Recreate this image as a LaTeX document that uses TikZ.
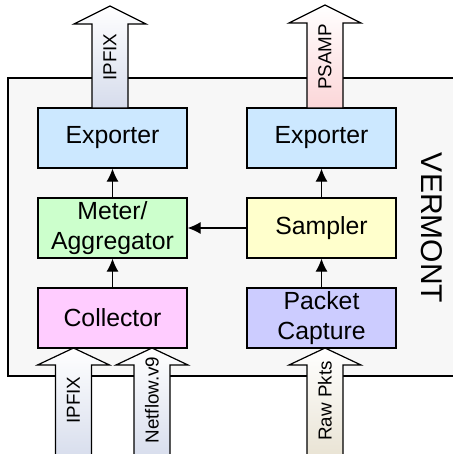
\documentclass[tikz,border=0pt]{standalone}
\usepackage{fontspec}
\setmainfont{Liberation Sans}
\usetikzlibrary{arrows.meta}

\definecolor{expcol}{RGB}{204,232,255}
\definecolor{metcol}{RGB}{204,255,204}
\definecolor{samcol}{RGB}{255,255,204}
\definecolor{colcol}{RGB}{255,204,255}
\definecolor{capcol}{RGB}{204,204,255}
\definecolor{framecol}{RGB}{247,247,247}
\definecolor{ipfixcol}{RGB}{214,220,236}
\definecolor{psampcol}{RGB}{252,214,216}
\definecolor{rawcol}{RGB}{232,226,210}

% fat arrow: centre x, tip y, head base y, tail y, colour
\newcommand{\fatarrow}[5]{%
  \draw[line width=0.6pt, top color=white, bottom color=#5]
    (#1,#2) -- (#1+36,#3) -- (#1+18,#3) -- (#1+18,#4) --
    (#1-18,#4) -- (#1-18,#3) -- (#1-36,#3) -- cycle;}

\begin{document}
\begin{tikzpicture}[x=0.5pt, y=-0.5pt,
  unit/.style={draw, line width=0.65pt, minimum width=74.5pt, minimum height=30pt,
    inner sep=0pt, align=center, font=\fontsize{12.4}{15}\selectfont},
  flow/.style={rotate=90, inner sep=0pt, font=\fontsize{9.4}{11}\selectfont},
  link/.style={line width=0.55pt, -{Latex[length=6.5pt,width=6pt]}}]
\useasboundingbox (0,0) rectangle (453,454);

% frame
\draw[line width=0.6pt, fill=framecol] (8,78) rectangle (470,376);
\node[rotate=-90, inner sep=0pt, font=\fontsize{15}{18}\selectfont] (vermont) at (432,228) {VERMONT};

% modules
\node[unit, fill=expcol] (expl) at (112.5,138) {Exporter};
\node[unit, fill=expcol] (expr) at (321.5,138) {Exporter};
\node[unit, fill=metcol] (meter) at (112.5,228) {Meter/\\Aggregator};
\node[unit, fill=samcol] (sampler) at (321.5,228) {Sampler};
\node[unit, fill=colcol] (collector) at (112.5,318) {Collector};
\node[unit, fill=capcol] (capture) at (321.5,318) {Packet\\Capture};

\draw[link] (meter) -- (expl);
\draw[link] (collector) -- (meter);
\draw[link] (sampler) -- (expr);
\draw[link] (capture) -- (sampler);
\draw[link] (sampler) -- (meter);

% flows in and out
\fatarrow{110}{6}{24}{108}{ipfixcol}
\fatarrow{325}{5}{23}{108}{psampcol}
\fatarrow{73.5}{348}{365}{462}{ipfixcol}
\fatarrow{152}{348}{365}{462}{ipfixcol}
\fatarrow{325}{348}{365}{462}{rawcol}

\node[flow] (ipfixout) at (110,57) {IPFIX};
\node[flow] (psampout) at (325,57) {PSAMP};
\node[flow] (ipfixin) at (73.5,400) {IPFIX};
\node[flow] (netflowin) at (152,400) {Netflow.v9};
\node[flow] (rawin) at (325,401) {Raw Pkts};
\end{tikzpicture}
\end{document}
